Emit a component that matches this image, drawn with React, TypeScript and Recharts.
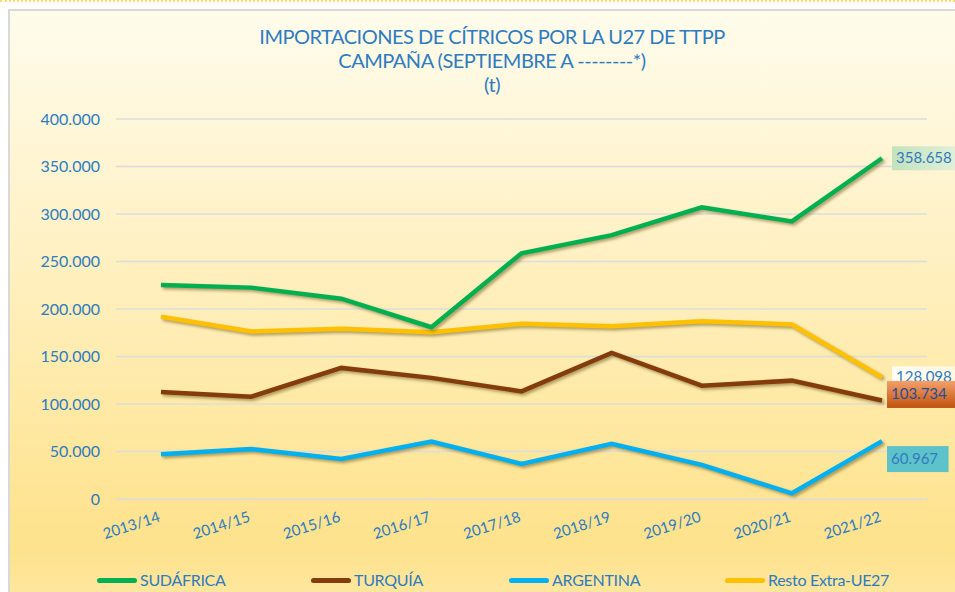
import React from "react";
import { LineChart, Line, XAxis, YAxis, CartesianGrid, LabelList } from "recharts";

const campaigns = ["2013/14", "2014/15", "2015/16", "2016/17", "2017/18", "2018/19", "2019/20", "2020/21", "2021/22"];
const sudafrica = [225200, 222500, 210900, 180900, 258700, 277700, 307000, 292200, 358658];
const turquia = [112700, 107700, 138000, 127500, 113300, 153800, 119300, 124600, 103734];
const argentina = [47200, 52500, 42200, 60500, 37000, 58000, 35900, 6000, 60967];
const resto = [191900, 176300, 179200, 175600, 184500, 181900, 187200, 183700, 128098];
const yTicks = [0, 50000, 100000, 150000, 200000, 250000, 300000, 350000, 400000];

const data = campaigns.map((campaign, i) => ({
  campaign,
  sudafrica: sudafrica[i],
  turquia: turquia[i],
  argentina: argentina[i],
  resto: resto[i],
}));

const BLUE_TEXT = "#2F7BC0";
const FONT = "Lato, 'Open Sans', sans-serif";

// drawing order: later ones sit on top
const series = [
  { key: "resto", name: "Resto Extra-UE27", color: "#FFC000", box: "url(#boxResto)", text: BLUE_TEXT, dx: 10, dy: 0, h: 22 },
  { key: "sudafrica", name: "SUDÁFRICA", color: "#00B050", box: "url(#boxGreen)", text: BLUE_TEXT, dx: 10, dy: 0, h: 24 },
  { key: "turquia", name: "TURQUÍA", color: "#843C0C", box: "url(#boxOrange)", text: "#1F4E9A", dx: 5, dy: -6, h: 27 },
  { key: "argentina", name: "ARGENTINA", color: "#00B0F0", box: "#5EC2CA", text: BLUE_TEXT, dx: 5, dy: 18, h: 26 },
];
const legendOrder = ["sudafrica", "turquia", "argentina", "resto"];

const fmt = (v: number) => (v === 0 ? "0" : String(v).replace(/\B(?=(\d{3})+(?!\d))/g, "."));

const XTick = ({ x, y, payload }: any) => (
  <g transform={`translate(${x},${y + 14}) rotate(-18)`}>
    <text x={0} y={0} textAnchor="end" fill={BLUE_TEXT} fontSize={15} fontFamily={FONT}>
      {payload.value}
    </text>
  </g>
);

const makeEndLabel = (s: (typeof series)[number]) => (props: any) => {
  const { x, y, value, index } = props;
  if (index !== campaigns.length - 1) return null;
  const text = fmt(value);
  const w = text.length * 8.6 + 10;
  const cy = y + s.dy;
  return (
    <g>
      <rect x={x + s.dx} y={cy - s.h / 2} width={w} height={s.h} fill={s.box} />
      <text x={x + s.dx + 4} y={cy + 5} fill={s.text} fontSize={15} fontFamily={FONT}>
        {text}
      </text>
    </g>
  );
};

export default function App() {
  return (
    <div style={{ position: "absolute", left: 0, top: 0, width: 955, height: 592, overflow: "hidden", background: "#fff", fontFamily: FONT }}>
      <style>{`.shadowLine .recharts-line-curve { filter: drop-shadow(2px 2px 1.5px rgba(110, 90, 30, 0.55)); }`}</style>
      <div style={{ position: "absolute", left: 0, top: 0, width: 955, borderTop: "2px dotted #FFD966" }} />
      <div
        style={{
          position: "absolute",
          left: 8,
          top: 9,
          width: 970,
          height: 610,
          borderLeft: "2px solid #D9D9D9",
          borderTop: "2px solid #D9D9D9",
          background: "linear-gradient(to bottom, #FFFCEC 0%, #FFF2C8 35%, #FEE699 75%, #FEE28C 88%, #FEE9A8 100%)",
        }}
      />
      <div style={{ position: "absolute", left: 0, top: 24, width: 984, textAlign: "center", color: BLUE_TEXT, fontSize: 20, lineHeight: "24px", letterSpacing: -0.5 }}>
        <div>IMPORTACIONES DE CÍTRICOS POR LA U27 DE TTPP</div>
        <div>CAMPAÑA (SEPTIEMBRE A --------*)</div>
        <div>(t)</div>
      </div>
      <div style={{ position: "absolute", left: 0, top: 0 }}>
        <LineChart width={955} height={592} data={data} margin={{ top: 119, right: 28, left: 16, bottom: 0 }}>
          <defs>
            <linearGradient id="boxGreen" x1="0" y1="0" x2="1" y2="0">
              <stop offset="0%" stopColor="#C3E2BE" />
              <stop offset="100%" stopColor="#E4F1DA" />
            </linearGradient>
            <linearGradient id="boxResto" x1="0" y1="0" x2="1" y2="0">
              <stop offset="0%" stopColor="#FFFDF5" />
              <stop offset="100%" stopColor="#FFF6DD" />
            </linearGradient>
            <linearGradient id="boxOrange" x1="0" y1="0" x2="0" y2="1">
              <stop offset="0%" stopColor="#F4A06A" />
              <stop offset="100%" stopColor="#C0520E" />
            </linearGradient>
          </defs>
          <CartesianGrid vertical={false} stroke="#DCDCDC" strokeWidth={1.5} />
          <XAxis
            dataKey="campaign"
            scale="point"
            padding={{ left: 45, right: 45 }}
            axisLine={false}
            tickLine={false}
            interval={0}
            height={93}
            tick={<XTick />}
          />
          <YAxis
            domain={[0, 400000]}
            ticks={yTicks}
            width={100}
            axisLine={false}
            tickLine={false}
            tickMargin={10}
            tickFormatter={fmt}
            tick={{ fill: BLUE_TEXT, fontSize: 16, fontFamily: FONT }}
          />
          {series.map((s) => (
            <Line
              key={s.key}
              className="shadowLine"
              type="linear"
              dataKey={s.key}
              name={s.name}
              stroke={s.color}
              strokeWidth={4.5}
              dot={false}
              activeDot={false}
              isAnimationActive={false}
            >
              <LabelList dataKey={s.key} content={makeEndLabel(s)} />
            </Line>
          ))}
        </LineChart>
      </div>
      <div style={{ position: "absolute", left: 0, top: 570, width: 955, height: 20 }}>
        {legendOrder.map((k, i) => {
          const s = series.find((d) => d.key === k)!;
          const left = [97, 311, 509, 725][i];
          return (
            <div key={k} style={{ position: "absolute", left, top: 0, display: "flex", alignItems: "center", height: 20 }}>
              <div style={{ width: 40, height: 5, borderRadius: 3, background: s.color, marginRight: 3 }} />
              <span style={{ color: BLUE_TEXT, fontSize: 16, lineHeight: "18px", letterSpacing: -0.3 }}>{s.name}</span>
            </div>
          );
        })}
      </div>
    </div>
  );
}
